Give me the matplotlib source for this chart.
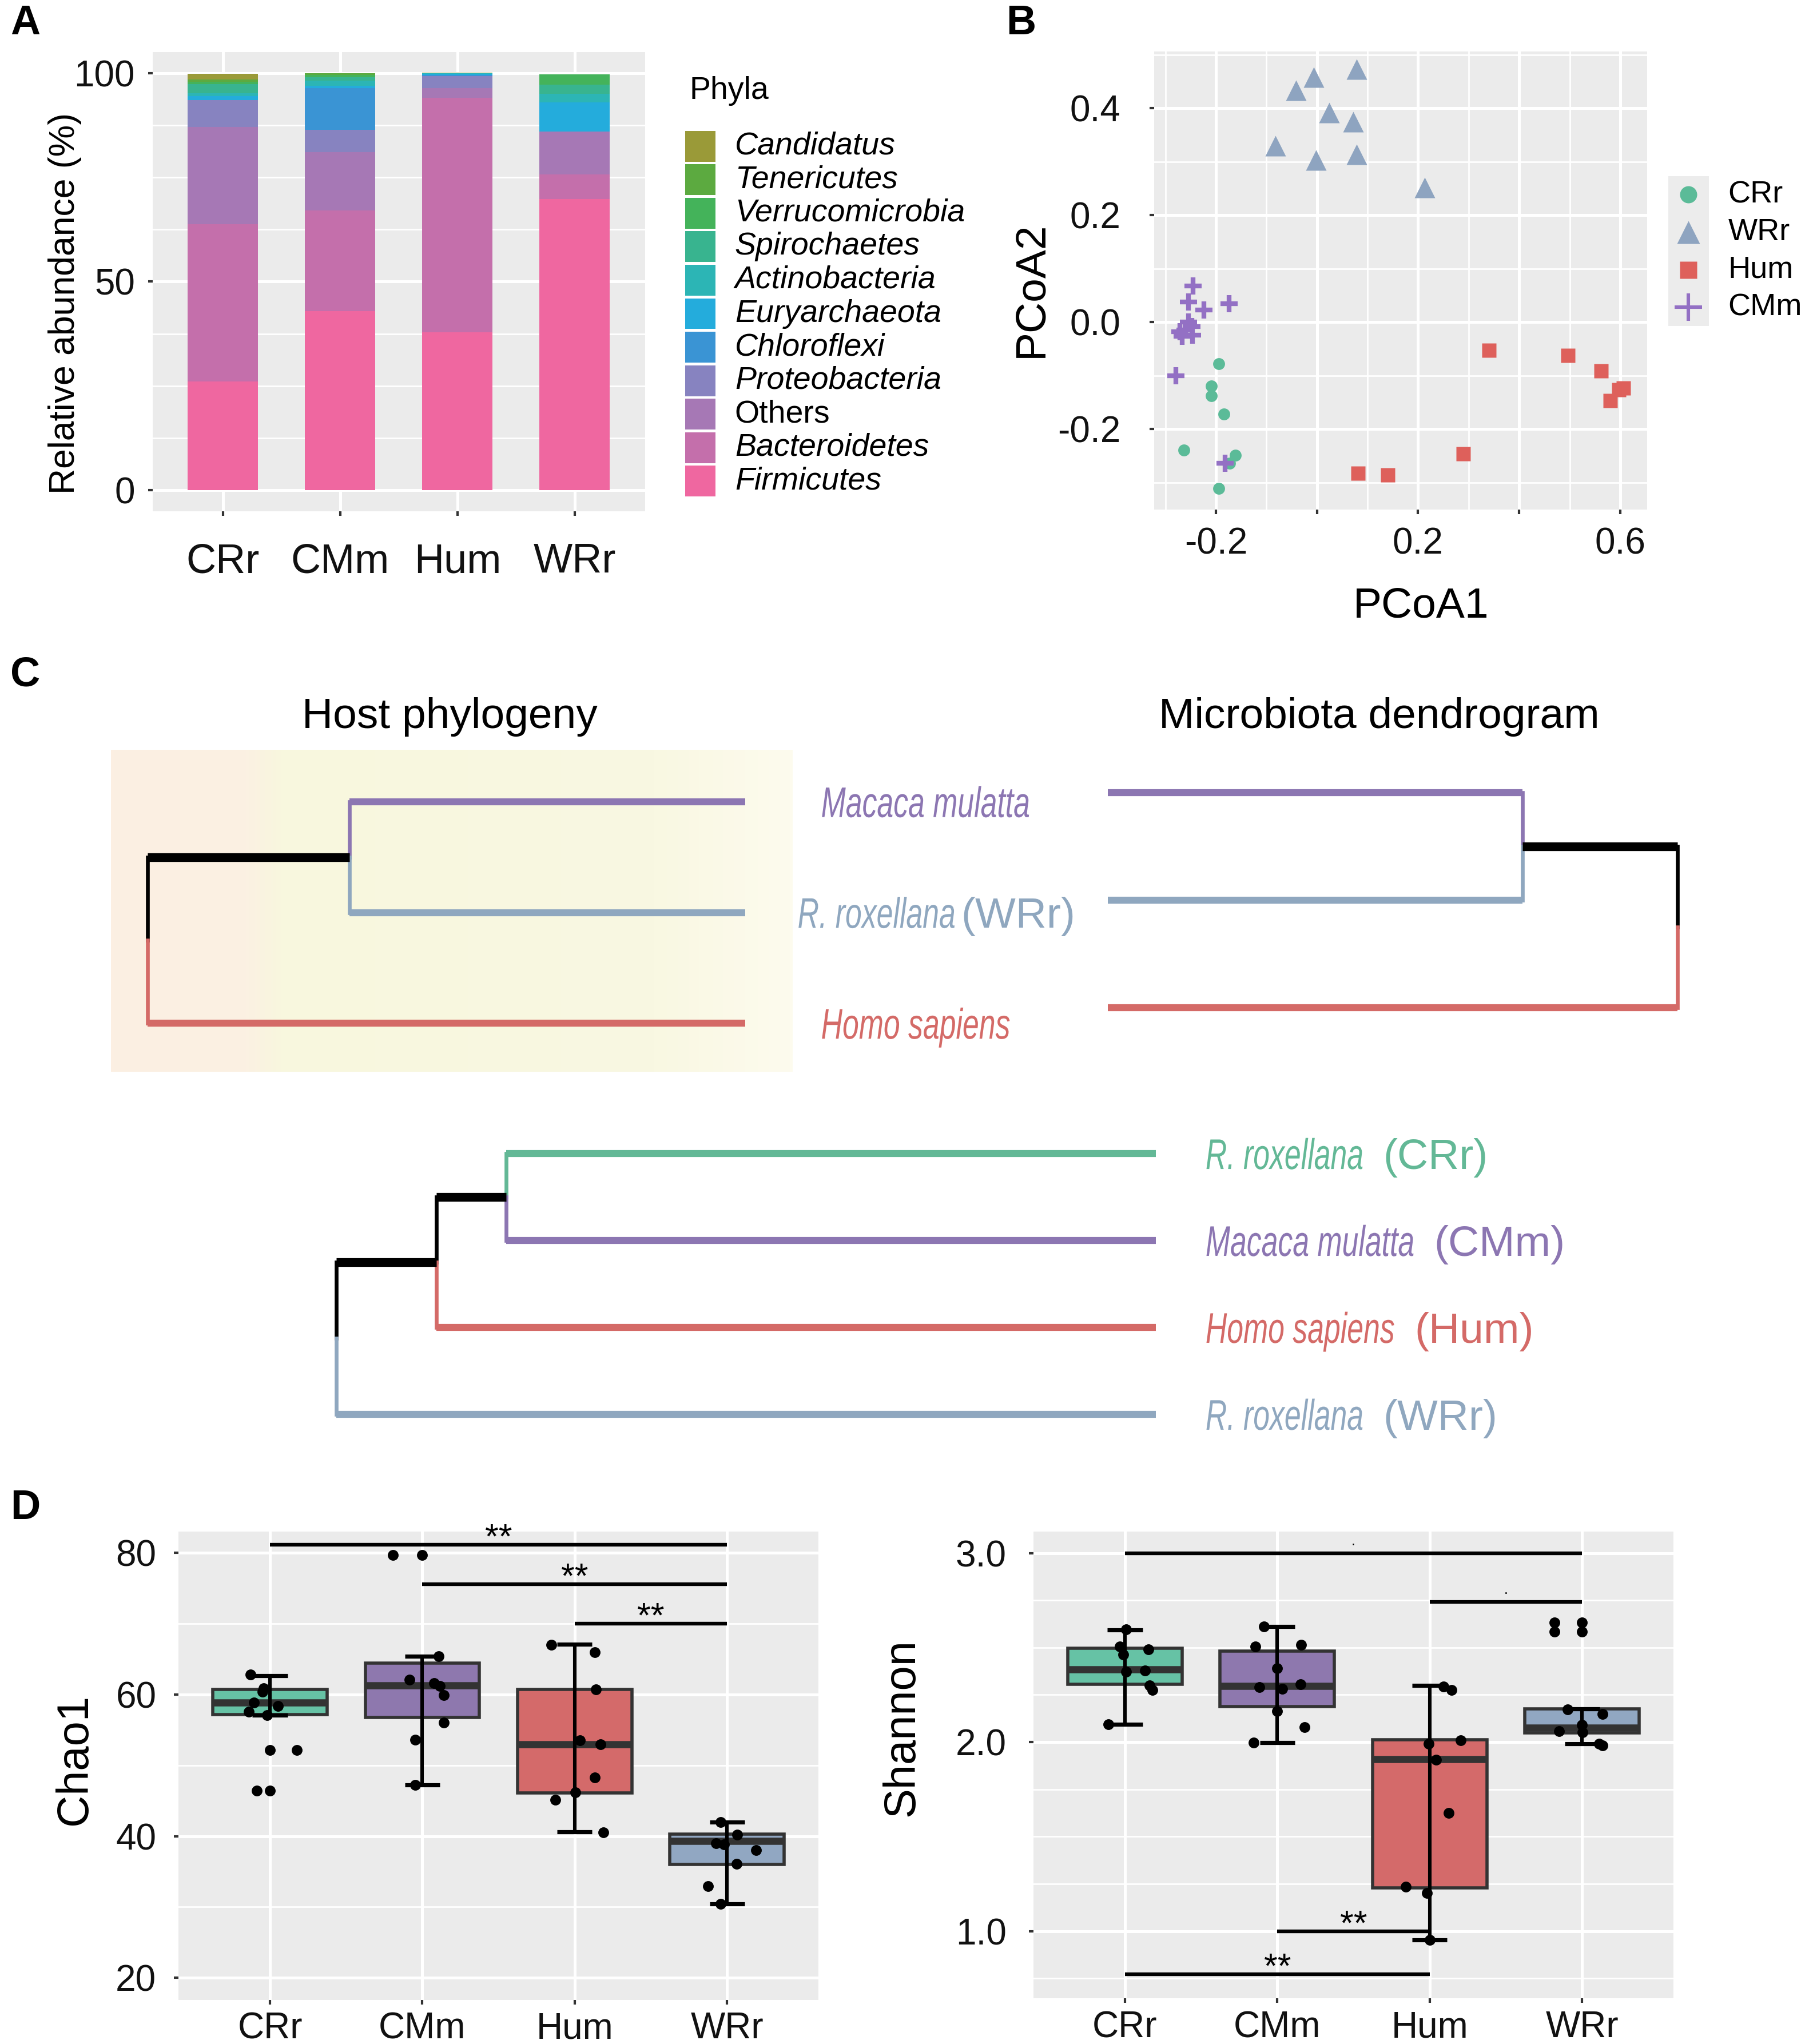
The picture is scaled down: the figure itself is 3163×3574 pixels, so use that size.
import matplotlib
matplotlib.use("Agg")
import matplotlib.pyplot as plt
import matplotlib.transforms as mtransforms
from matplotlib.colors import LinearSegmentedColormap
from matplotlib.patches import Rectangle, PathPatch
from matplotlib.textpath import TextPath
from matplotlib.font_manager import FontProperties
import numpy as np

plt.rcParams["font.family"] = ["Liberation Sans", "DejaVu Sans"]

# ---------------- data ----------------
groups = ["CRr", "CMm", "Hum", "WRr"]

# A: relative abundance (%), stacked bottom -> top
phyla = ["Firmicutes", "Bacteroidetes", "Others", "Proteobacteria", "Chloroflexi",
         "Euryarchaeota", "Actinobacteria", "Spirochaetes", "Verrucomicrobia",
         "Tenericutes", "Candidatus"]
phyla_colors = ["#ef67a0", "#c46fab", "#a678b5", "#8783c0", "#3a94d4",
                "#24acdc", "#2cb5b5", "#38b48f", "#44b35a", "#5caa40", "#9a9a38"]
abund_crr = [26.1, 37.7, 23.2, 6.5, 0.0, 0.9, 0.8, 2.2, 0.5, 0.6, 1.3]
abund_cmm = [42.9, 24.2, 13.9, 5.4, 10.0, 0.5, 1.3, 0.8, 0.6, 0.4, 0.0]
abund_hum = [37.8, 56.2, 2.4, 2.9, 0.2, 0.3, 0.1, 0.0, 0.0, 0.0, 0.2]
abund_wrr = [69.8, 5.9, 10.3, 0.0, 0.0, 7.0, 2.0, 2.2, 2.5, 0.0, 0.0]

# B: PCoA scores
pcoa_crr_x = [-0.194, -0.209, -0.209, -0.184, -0.263, -0.162, -0.173, -0.194]
pcoa_crr_y = [-0.078, -0.120, -0.138, -0.172, -0.239, -0.249, -0.264, -0.311]
pcoa_wrr_x = [-0.041, -0.006, 0.078, -0.082, 0.024, 0.072, -0.002, 0.078, 0.213]
pcoa_wrr_y = [0.433, 0.458, 0.473, 0.330, 0.392, 0.375, 0.303, 0.314, 0.251]
pcoa_hum_x = [0.340, 0.496, 0.562, 0.606, 0.580, 0.597, 0.289, 0.081, 0.140]
pcoa_hum_y = [-0.052, -0.062, -0.091, -0.123, -0.146, -0.126, -0.246, -0.282, -0.285]
pcoa_cmm_x = [-0.245, -0.254, -0.224, -0.174, -0.254, -0.271, -0.261, -0.248, -0.246,
              -0.267, -0.279, -0.182]
pcoa_cmm_y = [0.068, 0.038, 0.023, 0.034, 0.000, -0.018, -0.015, -0.008, -0.025,
              -0.027, -0.100, -0.264]

# C: trees (leaf order top -> bottom, merges as (child, child, height))
top_leaf_names = ["Macaca mulatta", "R. roxellana", "Homo sapiens"]
top_leaf_tags = ["", "(WRr)", ""]
top_leaf_groups = ["CMm", "WRr", "Hum"]
host_merges = [(0, 1, 0.662), (3, 2, 1.0)]
micro_merges = [(0, 1, 0.728), (3, 2, 1.0)]
bottom_leaf_names = ["R. roxellana", "Macaca mulatta", "Homo sapiens", "R. roxellana"]
bottom_leaf_groups = ["CRr", "CMm", "Hum", "WRr"]
bottom_merges = [(0, 1, 0.793), (4, 2, 0.878), (5, 3, 1.0)]

# D: alpha diversity, box statistics + individual samples
chao_q1 = [57.2, 56.8, 46.1, 36.0]
chao_med = [58.9, 61.3, 53.0, 39.3]
chao_q3 = [60.7, 64.4, 60.7, 40.3]
chao_lo = [57.1, 47.2, 40.6, 30.4]
chao_hi = [62.7, 65.4, 67.1, 42.0]
chao_fliers = [[52.2, 46.4], [79.7], [], []]
chao_jx = [[-0.126, -0.043, -0.05, -0.104, 0.054, -0.14, -0.018, 0.176, -0.086],
           [-0.194, 0.108, -0.086, 0.076, 0.115, 0.14, 0.14, -0.047, -0.047],
           [-0.155, 0.133, 0.14, 0.036, 0.169, 0.133, 0.004, -0.126, 0.187],
           [-0.043, 0.065, -0.072, -0.018, 0.19, 0.061, -0.126, -0.043]]
chao_pts = [[62.8, 60.9, 60.4, 58.9, 58.4, 57.6, 57.1, 52.2, 46.4],
            [79.7, 65.4, 62.1, 61.6, 61.2, 59.9, 56.0, 53.6, 47.2],
            [67.0, 66.0, 60.7, 53.5, 53.0, 48.3, 46.2, 45.1, 40.5],
            [42.0, 40.2, 39.0, 38.8, 38.0, 36.1, 32.9, 30.4]]
chao_sig_from = [0, 1, 2]
chao_sig_to = [3, 3, 3]
chao_sig_y = [81.2, 75.6, 70.0]
chao_sig_lab = ["**", "**", "**"]

shan_q1 = [2.307, 2.187, 1.230, 2.048]
shan_med = [2.383, 2.297, 1.910, 2.076]
shan_q3 = [2.497, 2.480, 2.011, 2.177]
shan_lo = [2.095, 1.996, 0.954, 1.990]
shan_hi = [2.592, 2.611, 2.299, 2.177]
shan_fliers = [[], [], [], [2.634, 2.583]]
shan_jx = [[0.008, -0.032, 0.153, -0.012, 0.008, 0.133, 0.161, 0.181, -0.108],
           [-0.088, 0.157, -0.145, 0.0, 0.153, -0.116, 0.032, 0.0, 0.177, -0.157],
           [0.092, 0.145, -0.008, 0.205, 0.044, 0.124, -0.157, -0.016, 0.0],
           [-0.181, -0.181, -0.096, 0.133, 0.0, -0.149, 0.004, 0.112, 0.133]]
shan_pts = [[2.596, 2.507, 2.491, 2.463, 2.371, 2.377, 2.301, 2.276, 2.095],
            [2.611, 2.516, 2.507, 2.390, 2.305, 2.291, 2.282, 2.164, 2.078, 1.996],
            [2.295, 2.276, 1.990, 2.010, 1.907, 1.625, 1.234, 1.202, 0.954],
            [2.634, 2.583, 2.173, 2.149, 2.091, 2.057, 2.053, 1.990, 1.983]]
shan_sig_from = [0, 2, 1, 0]
shan_sig_to = [3, 3, 2, 2]
shan_sig_y = [3.0, 2.743, 1.0, 0.773]
shan_sig_lab = [".", ".", "**", "**"]

# colours
pcoa_colors = {"CRr": "#5bbb98", "WRr": "#8ea4c0", "Hum": "#de605b", "CMm": "#9370c4"}
tree_colors = {"CRr": "#63b896", "CMm": "#8c76b2", "Hum": "#d46a67", "WRr": "#8fa7bf"}
box_colors = ["#66c2a5", "#8e78ae", "#d46a6a", "#91a7c2"]

# ---------------- layout helpers ----------------
W, H = 1388.0, 1568.0
FIG_W, FIG_H = 3163, 3574
fig = plt.figure(figsize=(FIG_W / 200, FIG_H / 200), dpi=200)


def add_ax(x0, y0, x1, y1):
    return fig.add_axes([x0 / W, 1 - y1 / H, (x1 - x0) / W, (y1 - y0) / H])


def gg_style(ax):
    ax.set_facecolor("#ebebeb")
    for s in ax.spines.values():
        s.set_visible(False)
    ax.set_axisbelow(True)
    ax.grid(which="major", color="white", lw=1.8)
    ax.grid(which="minor", color="white", lw=1.0)
    ax.tick_params(which="major", length=3, width=1.5, color="#333333", labelcolor="#111111")
    ax.tick_params(which="minor", length=0)


def panel_letter(x, y, s):
    fig.text(x / W, 1 - y / H, s, fontsize=26, fontweight="bold", va="top", ha="left")


# ---------------- A ----------------
axA = add_ax(117, 40, 495, 392)
gg_style(axA)
xpos = np.arange(len(groups))
table = np.array([abund_crr, abund_cmm, abund_hum, abund_wrr])
bottoms = np.zeros(len(groups))
for j, col in enumerate(phyla_colors):
    axA.bar(xpos, table[:, j], 0.6, bottom=bottoms, color=col, lw=0)
    bottoms += table[:, j]
axA.set_xlim(-0.6, 3.6)
axA.set_ylim(-5, 105)
axA.set_xticks(xpos, groups)
axA.set_yticks([0, 50, 100])
axA.set_yticks([12.5, 25, 37.5, 62.5, 75, 87.5], minor=True)
axA.tick_params(axis="x", labelsize=26, pad=17)
axA.tick_params(axis="y", labelsize=23, pad=8)
axA.set_ylabel("Relative abundance (%)", fontsize=22.5)
axA.yaxis.set_label_coords(-0.143, 0.452)

fig.text(529 / W, 1 - 69.8 / H, "Phyla", fontsize=20, va="center", ha="left")
axL = add_ax(525.8, 99.3, 760, 382)
axL.axis("off")
axL.set_xlim(0, 1)
axL.set_ylim(len(phyla), 0)
for i, (name, col) in enumerate(zip(phyla[::-1], phyla_colors[::-1])):
    axL.add_patch(Rectangle((0, i + 0.04), 23.2 / 234.2, 0.92, color=col, lw=0))
    axL.text(38 / 234.2, i + 0.5, name, fontsize=20, va="center",
             style="normal" if name == "Others" else "italic")

# ---------------- B ----------------
axB = add_ax(885.6, 39.5, 1263.7, 391)
gg_style(axB)
axB.plot(pcoa_crr_x, pcoa_crr_y, "o", ms=7.5, color=pcoa_colors["CRr"], mec="none")
axB.plot(pcoa_wrr_x, pcoa_wrr_y, "^", ms=13, color=pcoa_colors["WRr"], mec="none")
axB.plot(pcoa_hum_x, pcoa_hum_y, "s", ms=9, color=pcoa_colors["Hum"], mec="none")
axB.plot(pcoa_cmm_x, pcoa_cmm_y, "+", ms=11, mew=3, color=pcoa_colors["CMm"])
axB.set_xlim(-0.322, 0.653)
axB.set_ylim(-0.351, 0.506)
axB.set_xticks([-0.2, 0.0, 0.2, 0.4, 0.6], ["-0.2", "", "0.2", "", "0.6"])
axB.set_xticks([-0.3, -0.1, 0.1, 0.3, 0.5], minor=True)
axB.set_yticks([-0.2, 0.0, 0.2, 0.4], ["-0.2", "0.0", "0.2", "0.4"])
axB.set_yticks([-0.3, -0.1, 0.1, 0.3, 0.5], minor=True)
axB.tick_params(axis="x", labelsize=23, pad=8)
axB.tick_params(axis="y", labelsize=23, pad=18)
axB.set_xlabel("PCoA1", fontsize=27)
axB.xaxis.set_label_coords(0.541, -0.168)
axB.set_ylabel("PCoA2", fontsize=27)
axB.yaxis.set_label_coords(-0.21, 0.48)

axBL = add_ax(1280, 135, 1311, 250)
axBL.set_facecolor("#ececec")
for s in axBL.spines.values():
    s.set_visible(False)
axBL.set_xticks([])
axBL.set_yticks([])
axBL.set_xlim(0, 1)
axBL.set_ylim(4, 0)
legend_keys = [("CRr", "o", 10.8, 0), ("WRr", "^", 14.4, 0), ("Hum", "s", 10.8, 0), ("CMm", "+", 17, 2.2)]
for i, (g, m, ms, mew) in enumerate(legend_keys):
    if m == "+":
        axBL.plot(0.5, i + 0.5, m, ms=ms, mew=mew, color=pcoa_colors[g], clip_on=False)
    else:
        axBL.plot(0.5, i + 0.5, m, ms=ms, color=pcoa_colors[g], mec="none", clip_on=False)
    axBL.text(46 / 31, i + 0.5, g, fontsize=19.5, va="center", ha="left", clip_on=False)

# ---------------- C ----------------
fig.text(345 / W, 1 - 550 / H, "Host phylogeny", fontsize=27, ha="center", va="center")
fig.text(1058 / W, 1 - 550 / H, "Microbiota dendrogram", fontsize=27, ha="center", va="center")

bg = add_ax(85, 575, 608, 822)
bg_cmap = LinearSegmentedColormap.from_list(
    "bg", [(0, "#fcefe2"), (0.2, "#fbf1e2"), (0.25, "#f8f7de"), (0.8, "#f9f8e2"), (1.0, "#fdfbee")])
bg.imshow(np.linspace(0, 1, 256)[None, :], aspect="auto", cmap=bg_cmap, extent=(0, 1, 0, 1))
bg.axis("off")


def draw_tree(ax, leaf_groups, merges):
    n = len(leaf_groups)
    ys = list(range(n))
    xs = [0.0] * n
    cs = [tree_colors[g] for g in leaf_groups]
    for a, b, h in merges:
        for k in (a, b):
            ax.plot([xs[k], h], [ys[k], ys[k]], color=cs[k], lw=4.4 if k < n else 5.5,
                    solid_capstyle="butt", clip_on=False)
        mid = (ys[a] + ys[b]) / 2
        ax.plot([h, h], [ys[a], mid], color=cs[a], lw=2.4, solid_capstyle="projecting", clip_on=False)
        ax.plot([h, h], [mid, ys[b]], color=cs[b], lw=2.4, solid_capstyle="projecting", clip_on=False)
        ys.append(mid)
        xs.append(h)
        cs.append("black")


ital = FontProperties(family="Liberation Sans", style="italic")
pt = fig.dpi / 72.0


def leaf_label(x_disp, y_disp, name, tag, color, gap, size=27, squeeze=0.69):
    # species name in a condensed italic (horizontally squeezed glyph outlines)
    tp = TextPath((0, 0), name, size=size, prop=ital)
    cap = size * 0.716 * pt
    tr = mtransforms.Affine2D().scale(squeeze * pt, pt).translate(x_disp, y_disp - cap / 2)
    fig.add_artist(PathPatch(tp, transform=tr, facecolor=color, edgecolor="none"))
    if tag:
        x_end = x_disp + tp.get_extents().x1 * squeeze * pt + gap * pt
        fig.text(x_end, y_disp - cap / 2, tag, transform=mtransforms.IdentityTransform(),
                 fontsize=size, color=color, ha="left", va="baseline")


axH = add_ax(113, 615, 572, 785)
axH.axis("off")
axH.set_xlim(1, 0)
axH.set_ylim(2, 0)
draw_tree(axH, top_leaf_groups, host_merges)
host_label_left = [630, 612, 630]
for i, (name, tag, g) in enumerate(zip(top_leaf_names, top_leaf_tags, top_leaf_groups)):
    yd = axH.transData.transform((0, i))[1]
    leaf_label(host_label_left[i] / W * FIG_W, yd, name, tag, tree_colors[g], gap=4)

axM = add_ax(850, 608, 1287, 773)
axM.axis("off")
axM.set_xlim(0, 1)
axM.set_ylim(2, 0)
draw_tree(axM, top_leaf_groups, micro_merges)

axT = add_ax(258, 885, 887, 1085)
axT.axis("off")
axT.set_xlim(1, 0)
axT.set_ylim(3, 0)
draw_tree(axT, bottom_leaf_groups, bottom_merges)
for i, (name, g) in enumerate(zip(bottom_leaf_names, bottom_leaf_groups)):
    xd, yd = axT.transData.transform((0, i))
    leaf_label(xd + 38 / W * FIG_W, yd, name, "(" + g + ")", tree_colors[g], gap=13)

# ---------------- D ----------------


def box_panel(ax, q1, med, q3, lo, hi, fliers, jx, pts, sig_a, sig_b, sig_y, sig_lab):
    gg_style(ax)
    stats = [dict(q1=q1[i], med=med[i], q3=q3[i], whislo=lo[i], whishi=hi[i], fliers=fliers[i])
             for i in range(len(groups))]
    bp = ax.bxp(stats, positions=range(len(groups)), widths=0.75, patch_artist=True,
                showcaps=False, manage_ticks=False,
                boxprops=dict(edgecolor="#333333", linewidth=2.0),
                medianprops=dict(color="#333333", linewidth=4.5, solid_capstyle="butt"),
                whiskerprops=dict(linewidth=0),
                flierprops=dict(marker="o", markerfacecolor="black", markeredgecolor="none",
                                markersize=6.8))
    for patch, c in zip(bp["boxes"], box_colors):
        patch.set_facecolor(c)
    pos = np.arange(len(groups))
    ax.vlines(pos, lo, hi, color="black", lw=2.2, zorder=4)
    ax.hlines(lo, pos - 0.115, pos + 0.115, color="black", lw=2.6, zorder=4)
    ax.hlines(hi, pos - 0.115, pos + 0.115, color="black", lw=2.6, zorder=4)
    for g in range(len(groups)):
        ax.plot(g + np.asarray(jx[g]), pts[g], "o", color="black", ms=6.8, mec="none", zorder=5)
    for a, b, y, lab in zip(sig_a, sig_b, sig_y, sig_lab):
        ax.plot([a, b], [y, y], color="black", lw=2.3, solid_capstyle="butt", zorder=5)
        if lab == ".":
            ax.annotate(lab, xy=((a + b) / 2, y), xytext=(0, 5), textcoords="offset points",
                        ha="center", va="baseline", fontsize=9)
        else:
            ax.annotate(lab, xy=((a + b) / 2, y), xytext=(0, -2), textcoords="offset points",
                        ha="center", va="baseline", fontsize=22)
    ax.set_xlim(-0.6, 3.6)
    ax.set_xticks(pos, groups)
    ax.tick_params(axis="x", labelsize=23, pad=4.5)


axD1 = add_ax(137, 1175, 628, 1534)
box_panel(axD1, chao_q1, chao_med, chao_q3, chao_lo, chao_hi, chao_fliers, chao_jx, chao_pts,
          chao_sig_from, chao_sig_to, chao_sig_y, chao_sig_lab)
axD1.set_ylim(16.9, 83.0)
axD1.set_yticks([20, 40, 60, 80])
axD1.set_yticks([30, 50, 70], minor=True)
axD1.tick_params(axis="y", labelsize=23, pad=11)
axD1.set_ylabel("Chao1", fontsize=28)
axD1.yaxis.set_label_coords(-0.130, 0.513)

axD2 = add_ax(793, 1175, 1284, 1533)
box_panel(axD2, shan_q1, shan_med, shan_q3, shan_lo, shan_hi, shan_fliers, shan_jx, shan_pts,
          shan_sig_from, shan_sig_to, shan_sig_y, shan_sig_lab)
axD2.set_ylim(0.644, 3.113)
axD2.set_yticks([1.0, 2.0, 3.0], ["1.0", "2.0", "3.0"])
axD2.set_yticks([0.75, 1.25, 1.5, 1.75, 2.25, 2.5, 2.75], minor=True)
axD2.tick_params(axis="y", labelsize=23, pad=14)
axD2.set_ylabel("Shannon", fontsize=28)
axD2.yaxis.set_label_coords(-0.173, 0.581)

panel_letter(8, 3, "A")
panel_letter(772, 3, "B")
panel_letter(8, 503, "C")
panel_letter(8, 1142, "D")

fig.savefig("out.png", dpi=200)
